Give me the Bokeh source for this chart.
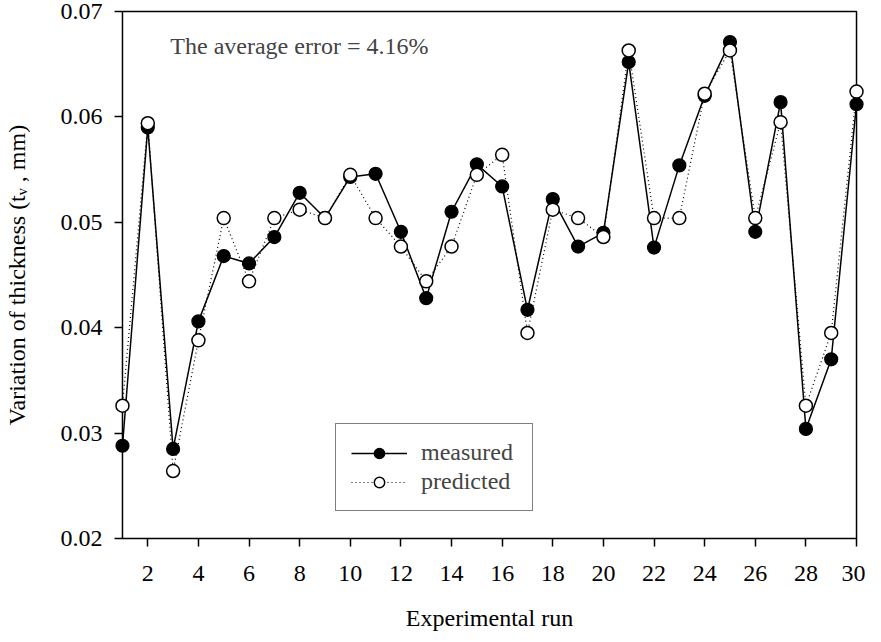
from bokeh.plotting import figure
from bokeh.models import (Range1d, FixedTicker, Label, Legend, LegendItem,
                          CustomJSTickFormatter, ColumnDataSource)
from bokeh.embed import file_html
from bokeh.resources import INLINE

# ---------------- data ----------------
runs = list(range(1, 31))
measured = [0.0288, 0.0590, 0.0285, 0.0406, 0.0468, 0.0461, 0.0486, 0.0528, 0.0504, 0.0543,
            0.0546, 0.0491, 0.0428, 0.0510, 0.0555, 0.0534, 0.0417, 0.0522, 0.0477, 0.0490,
            0.0652, 0.0476, 0.0554, 0.0620, 0.0671, 0.0491, 0.0614, 0.0304, 0.0370, 0.0612]
predicted = [0.0326, 0.0594, 0.0264, 0.0388, 0.0504, 0.0444, 0.0504, 0.0512, 0.0504, 0.0545,
             0.0504, 0.0477, 0.0444, 0.0477, 0.0545, 0.0564, 0.0395, 0.0512, 0.0504, 0.0486,
             0.0663, 0.0504, 0.0504, 0.0622, 0.0663, 0.0504, 0.0595, 0.0326, 0.0395, 0.0624]
x_ticks = list(range(2, 31, 2))
y_ticks = [0.02, 0.03, 0.04, 0.05, 0.06, 0.07]
x_title = "Experimental run"
y_title = "Variation of thickness (t\u1d65 , mm)"
note = "The average error = 4.16%"

FONT = "Liberation Serif"

# ---------------- geometry ----------------
W, H = 865, 634
ML, MR, MT, MB = 112, 1, 9, 94
XMIN, XMAX, YMIN, YMAX = 1, 30, 0.02, 0.07
PAD_X, PAD_Y = 8, 2          # px of breathing room so edge markers are not clipped
fw = W - ML - MR
fh = H - MT - MB
ux = (XMAX - XMIN) / (fw - 2 * PAD_X)   # data per px
uy = (YMAX - YMIN) / (fh - 2 * PAD_Y)
x0, x1 = XMIN - PAD_X * ux, XMAX + PAD_X * ux
y0, y1 = YMIN - PAD_Y * uy, YMAX + PAD_Y * uy

def dx(px):
    return x0 + (px - ML) * ux

def dy(py):
    return y1 - (py - MT) * uy

p = figure(width=W, height=H, output_backend="svg", toolbar_location=None,
           x_range=Range1d(x0, x1), y_range=Range1d(y0, y1),
           min_border_left=ML, min_border_right=MR, min_border_top=MT, min_border_bottom=MB)
p.background_fill_color = "white"
p.border_fill_color = "white"
p.grid.visible = False
p.outline_line_color = None

for ax in (p.xaxis[0], p.yaxis[0]):
    ax.axis_line_color = None
    ax.major_tick_line_width = 1.5
    ax.major_tick_line_color = "black"
    ax.minor_tick_line_color = None
    ax.major_label_text_font = FONT
    ax.major_label_text_font_size = "24px"
    ax.major_label_text_color = "black"
    ax.axis_label_text_font = FONT
    ax.axis_label_text_font_size = "24px"
    ax.axis_label_text_font_style = "normal"
    ax.axis_label_text_color = "black"

p.xaxis.ticker = FixedTicker(ticks=x_ticks)
p.xaxis.major_tick_in = PAD_Y
p.xaxis.major_tick_out = 6
p.xaxis.major_label_standoff = 19
p.xaxis.axis_label = x_title
p.xaxis.axis_label_standoff = 21

p.yaxis.ticker = FixedTicker(ticks=y_ticks)
p.yaxis.major_tick_in = PAD_X
p.yaxis.major_tick_out = 0
p.yaxis.major_label_standoff = 12
p.yaxis.formatter = CustomJSTickFormatter(code="return tick.toFixed(2);")
p.yaxis.axis_label = y_title
p.yaxis.axis_label_standoff = 28

# plot box drawn on the data limits
p.quad(left=[XMIN], right=[XMAX], bottom=[YMIN], top=[YMAX],
       fill_color=None, line_color="black", line_width=1.5)

src = ColumnDataSource(dict(x=runs, m=measured, pr=predicted))

l1 = p.line("x", "m", source=src, line_color="black", line_width=1.5)
s1 = p.scatter("x", "m", source=src, size=13, marker="circle",
               fill_color="black", line_color="black", line_width=1.2)
l2 = p.line("x", "pr", source=src, line_color="black", line_width=1.2, line_dash="1 3")
s2 = p.scatter("x", "pr", source=src, size=13, marker="circle",
               fill_color="white", line_color="black", line_width=1.5)

legend = Legend(items=[LegendItem(label="measured", renderers=[l1, s1]),
                       LegendItem(label="predicted", renderers=[l2, s2])],
                location=(221, 29), orientation="vertical",
                label_text_font=FONT, label_text_font_size="24px",
                glyph_width=56, glyph_height=26, label_height=26, label_width=96,
                label_standoff=14, padding=15, spacing=2, margin=0,
                border_line_color="black", border_line_width=1.2,
                background_fill_color="white", background_fill_alpha=1.0)
p.add_layout(legend, "center")

p.add_layout(Label(x=dx(168), y=dy(45.3), text=note, text_font=FONT,
                   text_font_size="24px", text_align="left", text_baseline="alphabetic"))

open("out.html", "w").write(file_html(p, INLINE))
